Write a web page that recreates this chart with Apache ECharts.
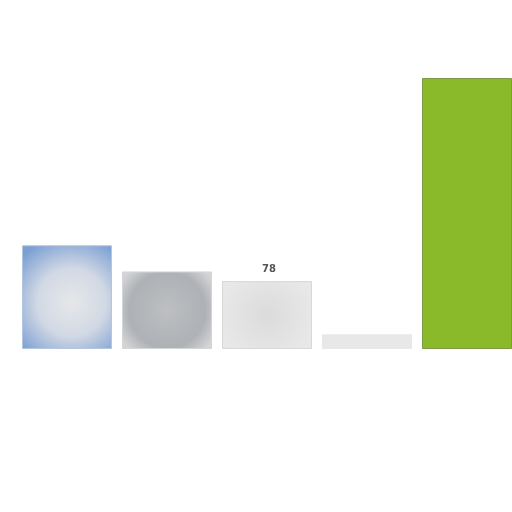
<!DOCTYPE html>
<html><head><meta charset="utf-8">
<script src="https://cdn.jsdelivr.net/npm/echarts@6/dist/echarts.min.js"></script>
<style>html,body{margin:0;padding:0;background:#fff}#c{width:512px;height:512px}</style>
</head><body><div id="c"></div>
<script>
const categories = ['A', 'B', 'C', 'D', 'E'];
const values = [119, 89, 78, 17, 311];
const labelsShown = [false, false, true, false, false];

const styles = [
  {color: {type:'radial', x:0.55, y:0.55, r:0.75, colorStops:[{offset:0,color:'#e6e7ea'},{offset:0.5,color:'#d2d9e4'},{offset:1,color:'#7b9fd3'}]}, borderColor:'#b3c5e0', borderWidth:1},
  {color: {type:'radial', x:0.5, y:0.5, r:0.7, colorStops:[{offset:0,color:'#bdbfc2'},{offset:0.7,color:'#aeb1b5'},{offset:1,color:'#d3d4d6'}]}, borderColor:'#d4d5d7', borderWidth:1},
  {color: {type:'radial', x:0.5, y:0.5, r:0.7, colorStops:[{offset:0,color:'#dbdbdb'},{offset:1,color:'#e8e8e8'}]}, borderColor:'#d8d8d8', borderWidth:1},
  {color:'#e8e8e8'},
  {color:'#8aba2a', borderColor:'#7d9a4a', borderWidth:1}
];

const chart = echarts.init(document.getElementById('c'));
chart.setOption({
  animation:false,
  grid:{left:17, width:500, top:78, bottom:163, outerBoundsMode:'none', containLabel:false},
  xAxis:{type:'category', data:categories, show:false},
  yAxis:{type:'value', min:0, max:311, show:false},
  series:[{
    type:'bar',
    barCategoryGap:'10%',
    data: values.map((v,i)=>({value:v, itemStyle:styles[i],
      label:{show:labelsShown[i], position:'top', color:'#555', fontSize:10, fontWeight:'bold', fontFamily:'DejaVu Sans', offset:[2,-2]}}))
  }]
});
</script></body></html>
